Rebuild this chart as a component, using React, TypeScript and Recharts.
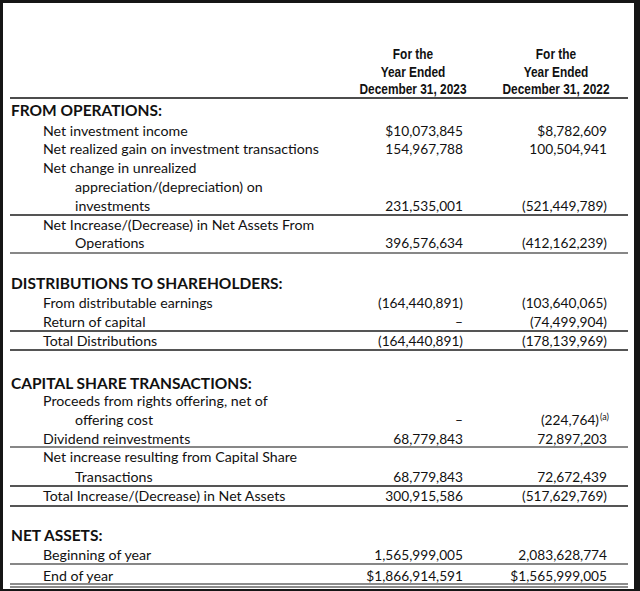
import React from 'react';
import { ComposedChart, Customized } from 'recharts';

// ---- Data ----
const columnHeaders2023 = ['For the', 'Year Ended', 'December 31, 2023'];
const columnHeaders2022 = ['For the', 'Year Ended', 'December 31, 2022'];

// kind: section header, item (first line of an item), cont (continuation line)
const lineKinds = [
  'section', 'item', 'item', 'item', 'cont', 'cont', 'item', 'cont',
  'section', 'item', 'item', 'item',
  'section', 'item', 'cont', 'item', 'item', 'cont', 'item',
  'section', 'item', 'item',
];
const lineLabels = [
  'FROM OPERATIONS:',
  'Net investment income',
  'Net realized gain on investment transactions',
  'Net change in unrealized',
  'appreciation/(depreciation) on',
  'investments',
  'Net Increase/(Decrease) in Net Assets From',
  'Operations',
  'DISTRIBUTIONS TO SHAREHOLDERS:',
  'From distributable earnings',
  'Return of capital',
  'Total Distributions',
  'CAPITAL SHARE TRANSACTIONS:',
  'Proceeds from rights offering, net of',
  'offering cost',
  'Dividend reinvestments',
  'Net increase resulting from Capital Share',
  'Transactions',
  'Total Increase/(Decrease) in Net Assets',
  'NET ASSETS:',
  'Beginning of year',
  'End of year',
];
const values2023 = [
  '', '$10,073,845', '154,967,788', '', '', '231,535,001', '', '396,576,634',
  '', '(164,440,891)', '–', '(164,440,891)',
  '', '', '–', '68,779,843', '', '68,779,843', '300,915,586',
  '', '1,565,999,005', '$1,866,914,591',
];
const values2022 = [
  '', '$8,782,609', '100,504,941', '', '', '(521,449,789)', '', '(412,162,239)',
  '', '(103,640,065)', '(74,499,904)', '(178,139,969)',
  '', '', '(224,764)', '72,897,203', '', '72,672,439', '(517,629,769)',
  '', '2,083,628,774', '$1,565,999,005',
];
const notes2022 = [
  '', '', '', '', '', '', '', '',
  '', '', '', '',
  '', '', '(a)', '', '', '', '',
  '', '', '',
];

// ---- Layout ----
const W = 640;
const H = 591;
const lineCenters = [
  110, 131, 149, 168, 187, 206, 225, 243,
  283, 303, 322, 341,
  383, 401, 420, 439, 457, 477, 496,
  535, 555, 576,
];
const rules: { y: number; kind: string }[] = [
  { y: 98, kind: 'head' },
  { y: 215, kind: 'thick' },
  { y: 253, kind: 'thin' },
  { y: 331, kind: 'thick' },
  { y: 350, kind: 'thick' },
  { y: 447, kind: 'thin' },
  { y: 486, kind: 'thick' },
  { y: 506, kind: 'thick' },
  { y: 564, kind: 'thin' },
  { y: 584, kind: 'double' },
];
const RULE_X1 = 10;
const RULE_X2 = 628;
const COL1_RIGHT = 463;
const COL2_RIGHT = 607;
const COL1_CENTER = 413;
const COL2_CENTER = 556;
const headerY = [54, 72, 89];

const bodyFont = "Lato, 'Open Sans', sans-serif";
const headFont = "'Liberation Sans', Arial, sans-serif";
const INK = '#111';
const LABEL_SIZE = 14.2;
const VALUE_SIZE = 13.7;
const SECTION_SIZE = 15.5;

const TableLayer = () => {
  const els: React.ReactNode[] = [];
  // frame
  els.push(<rect key="bg" x={0} y={0} width={W} height={H} fill="#fff" />);
  els.push(<rect key="fl" x={0} y={0} width={3} height={H} fill="#151515" />);
  els.push(<rect key="ft" x={0} y={0} width={W} height={3} fill="#151515" />);
  els.push(<rect key="fr" x={634} y={0} width={6} height={H} fill="#151515" />);
  els.push(<rect key="fb" x={0} y={589} width={W} height={2} fill="#151515" />);

  // column headers (narrow bold)
  headerY.forEach((y, i) => {
    els.push(
      <g key={'h1' + i} transform={`translate(${COL1_CENTER},${y + 5}) scale(0.82,1)`}>
        <text x={0} y={0} textAnchor="middle" fontFamily={headFont}
          fontWeight="bold" fontSize={14.5} fill={INK}>{columnHeaders2023[i]}</text>
      </g>
    );
    els.push(
      <g key={'h2' + i} transform={`translate(${COL2_CENTER},${y + 5}) scale(0.82,1)`}>
        <text x={0} y={0} textAnchor="middle" fontFamily={headFont}
          fontWeight="bold" fontSize={14.5} fill={INK}>{columnHeaders2022[i]}</text>
      </g>
    );
  });

  // rules
  rules.forEach((r, i) => {
    if (r.kind === 'double') {
      els.push(<line key={'r' + i + 'a'} x1={RULE_X1} x2={RULE_X2} y1={r.y} y2={r.y} stroke="#666" strokeWidth={1.5} />);
      els.push(<line key={'r' + i + 'b'} x1={RULE_X1} x2={RULE_X2} y1={r.y + 3} y2={r.y + 3} stroke="#666" strokeWidth={1.5} />);
    } else if (r.kind === 'thick') {
      els.push(<line key={'r' + i} x1={RULE_X1} x2={RULE_X2} y1={r.y} y2={r.y} stroke="#555" strokeWidth={2} />);
    } else if (r.kind === 'head') {
      els.push(<line key={'r' + i} x1={RULE_X1} x2={RULE_X2} y1={r.y} y2={r.y} stroke="#111" strokeWidth={1.5} />);
    } else {
      els.push(<line key={'r' + i} x1={RULE_X1} x2={RULE_X2} y1={r.y} y2={r.y} stroke="#111" strokeWidth={1.2} />);
    }
  });

  // rows
  lineLabels.forEach((label, i) => {
    const kind = lineKinds[i];
    const cy = lineCenters[i];
    const isSection = kind === 'section';
    const x = isSection ? 11 : kind === 'item' ? 43 : 75;
    els.push(
      <text key={'l' + i} x={x} y={cy + (isSection ? 5.5 : 5)} fontFamily={bodyFont}
        fontWeight={isSection ? 'bold' : 'normal'} fontSize={isSection ? SECTION_SIZE : LABEL_SIZE} fill={INK}>
        {label}
      </text>
    );
    if (values2023[i]) {
      els.push(
        <text key={'a' + i} x={COL1_RIGHT} y={cy + 5} textAnchor="end" fontFamily={bodyFont}
          fontSize={VALUE_SIZE} fill={INK}>{values2023[i]}</text>
      );
    }
    if (values2022[i]) {
      const note = notes2022[i];
      els.push(
        <text key={'b' + i} x={note ? COL2_RIGHT - 8 : COL2_RIGHT} y={cy + 5} textAnchor="end"
          fontFamily={bodyFont} fontSize={VALUE_SIZE} fill={INK}>{values2022[i]}</text>
      );
      if (note) {
        els.push(
          <text key={'n' + i} x={COL2_RIGHT - 7} y={cy - 0.5} fontFamily={bodyFont}
            fontSize={9} fill={INK}>{note}</text>
        );
      }
    }
  });
  return <g>{els}</g>;
};

export default function App() {
  return (
    <div style={{ position: 'absolute', left: 0, top: 0, width: W, height: H, background: '#fff' }}>
      <ComposedChart width={W} height={H} data={[]} margin={{ top: 0, right: 0, bottom: 0, left: 0 }}>
        <Customized component={TableLayer} />
      </ComposedChart>
    </div>
  );
}
